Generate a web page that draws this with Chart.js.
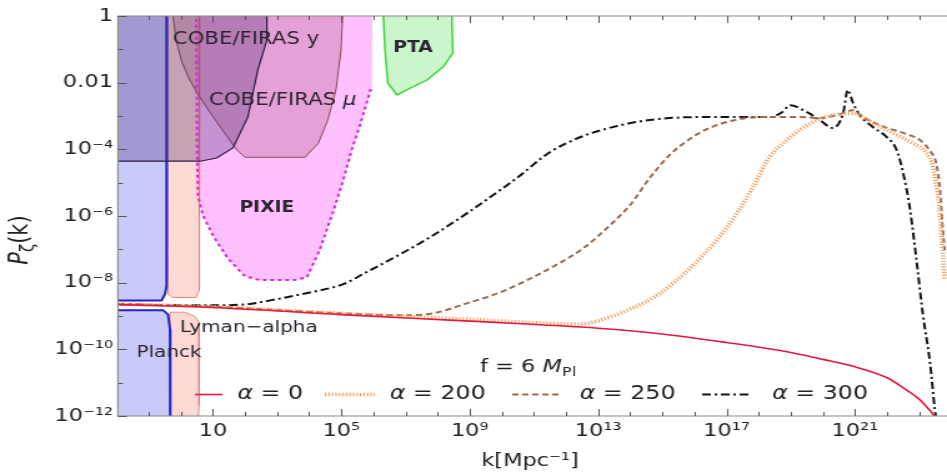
<!DOCTYPE html>
<html>
<head>
<meta charset="utf-8">
<script src="https://cdn.jsdelivr.net/npm/chart.js@4.4.1/dist/chart.umd.min.js"></script>
<style>
  html, body { margin: 0; padding: 0; background: #fff; overflow: hidden; }
  #chart { display: block; }
</style>
</head>
<body>
<!-- drawn narrow, shown wide -->
<canvas id="chart" width="758" height="475" style="width: 947px; height: 475px;"></canvas>
<script>
// P_zeta(k) for f = 6 M_Pl, k in Mpc^-1
const alpha0K = [1e-2, 1e1, 1e5, 1e9, 1e13, 1e15, 1e17, 1e19, 1e20, 1e21, 1e22, 3.2e22, 1e23, 2e23, 3e23];
const alpha0P = [2.2e-9, 1.8e-9, 1.1e-9, 7e-10, 4.3e-10, 2.9e-10, 1.6e-10, 8e-11, 5e-11, 3e-11, 1.4e-11, 7e-12, 3.2e-12, 1.6e-12, 1e-12];

const alpha200K = [1e-2, 1e1, 1e5, 1.1e9, 3.2e11, 2.7e12, 1.1e13, 9.8e13, 8.5e14, 7.2e15, 5e16, 2.1e17, 6.6e17, 2.2e18, 7.6e18, 1.9e19, 1e20, 8.7e20, 3.6e21, 1.5e22, 6.5e22, 1.7e23, 2.7e23, 3.5e23, 4.5e23, 5.1e23, 6.3e23];
const alpha200P = [2.3e-9, 1.9e-9, 1.2e-9, 7.9e-10, 6e-10, 5.6e-10, 7.4e-10, 1.6e-9, 4.8e-9, 2.7e-8, 1.9e-7, 1.2e-6, 7.2e-6, 5.9e-5, 1.9e-4, 3.8e-4, 8.7e-4, 1.2e-3, 6.2e-4, 3.1e-4, 1.5e-4, 7.8e-5, 3e-5, 7.2e-6, 1.2e-6, 1.9e-7, 1.2e-8];

const alpha250K = [1e-2, 1e1, 1e5, 6.8e6, 7.1e7, 8.1e8, 8.7e9, 9.3e10, 3.2e11, 3.4e12, 2.3e13, 9.8e13, 4.1e14, 1.7e15, 5.9e15, 1.8e16, 6.2e16, 2.6e17, 1.1e18, 1.9e19, 8.1e19, 2.8e20, 8.7e20, 1.8e21, 1e22, 3.2e22, 1.05e23, 2.1e23, 3.5e23, 4.5e23, 5.5e23, 6.3e23];
const alpha250P = [2.3e-9, 1.9e-9, 1.2e-9, 1.05e-9, 1.2e-9, 2.4e-9, 5.1e-9, 1.45e-8, 2.7e-8, 1.07e-7, 5.2e-7, 2.1e-6, 1.4e-5, 6.8e-5, 1.8e-4, 3.5e-4, 5.7e-4, 8.1e-4, 9.3e-4, 9.3e-4, 8.7e-4, 1.07e-3, 1.5e-3, 9.3e-4, 4.4e-4, 3.1e-4, 1.9e-4, 9.5e-5, 3.4e-5, 5.9e-6, 3.7e-7, 9.3e-8];

const alpha300K = [1e-2, 0.93, 1e1, 85, 980, 1.05e4, 1.1e5, 6.3e5, 6.8e6, 7.1e7, 8.1e8, 8.7e9, 3e10, 3.2e11, 3.4e12, 3.9e13, 4.1e14, 1.5e16, 2.2e18, 5.4e18, 9.5e18, 3.2e19, 8.1e19, 2e20, 4.3e20, 6e20, 8.7e20, 1.4e21, 3.6e21, 1e22, 2e22, 3.2e22, 5.1e22, 8.5e22, 1.3e23, 2.2e23, 3.1e23, 3.3e23];
const alpha300P = [2.3e-9, 2.1e-9, 2.1e-9, 2.2e-9, 3.2e-9, 5.1e-9, 8.9e-9, 2.1e-8, 7.1e-8, 2.6e-7, 1.2e-6, 5.9e-6, 1.4e-5, 8.3e-5, 2.5e-4, 5e-4, 7.6e-4, 9.3e-4, 9.3e-4, 1.3e-3, 2.1e-3, 1.3e-3, 7.6e-4, 4.4e-4, 1.2e-3, 6e-3, 2.5e-3, 1.07e-3, 4.7e-4, 2.3e-4, 9.5e-5, 1.9e-5, 1.8e-6, 3.8e-8, 1.2e-9, 3.8e-11, 1.5e-12, 1e-12];

// excluded / forecast regions, as closed outlines
const planckHiK = [1e-3, 0.37, 0.37, 0.35, 0.32, 0.25, 1e-3, 1e-3];
const planckHiP = [10, 10, 1e-7, 8e-9, 4.5e-9, 2.9e-9, 2.9e-9, 10];
const planckLoK = [1e-3, 0.28, 0.40, 0.46, 0.47, 0.47, 1e-3, 1e-3];
const planckLoP = [1.5e-9, 1.5e-9, 1.1e-9, 4e-10, 1e-11, 1e-13, 1e-13, 1.5e-9];

const lymanHiK = [0.37, 3.9, 3.7, 3.9, 3.7, 3.0, 0.55, 0.40, 0.37];
const lymanHiP = [10, 10, 3e-3, 3e-6, 5.9e-9, 3.6e-9, 3.6e-9, 4.5e-9, 10];
const lymanLoK = [0.46, 1.3, 2.75, 3.7, 3.7, 3.2, 0.46, 0.46];
const lymanLoP = [1.3e-9, 1.3e-9, 9.8e-10, 6.5e-10, 2.1e-12, 1e-13, 1e-13, 1.3e-9];

const firasYK = [1e-3, 480, 480, 250, 123, 42, 13, 4, 1e-3, 1e-3];
const firasYP = [10, 10, 0.19, 0.024, 9.3e-4, 1.1e-4, 5.5e-5, 4.4e-5, 4.4e-5, 10];

const firasMuK = [0.57, 0.57, 0.71, 1.07, 1.9, 4, 9.3, 23, 56, 100, 7.4e3, 1.9e4, 3.8e4, 6.8e4, 9.8e4, 1.1e5, 1.1e5, 0.57];
const firasMuP = [10, 1, 0.19, 0.042, 0.012, 3.5e-3, 1.07e-3, 3.1e-4, 9.5e-5, 5.8e-5, 5.8e-5, 1.5e-4, 7.6e-4, 6e-3, 0.095, 1, 10, 10];

const pixieK = [2.95, 3.2, 3.4, 4.9, 10, 29, 100, 290, 3500, 8500, 2.1e4, 5.5e4, 1.1e5, 2.1e5, 3.8e5, 8.9e5, 9.6e5, 2.95];
const pixieP = [10, 9.5e-5, 4.2e-6, 1.05e-6, 2.6e-7, 5.4e-8, 1.55e-8, 1.2e-8, 1.2e-8, 1.45e-8, 9.3e-8, 1.3e-6, 1.05e-5, 9.5e-5, 5.3e-4, 8e-3, 10, 10];
const pixieEdgeCount = 16; // dashed edge stops where the band meets the top

const ptaK = [1.8e6, 2.3e6, 2.8e6, 5.4e6, 1.4e7, 4.7e7, 1.5e8, 3e8, 2.8e8, 2.8e8, 1.8e6];
const ptaP = [10, 0.095, 9.8e-3, 4.3e-3, 6.9e-3, 0.012, 0.03, 0.078, 0.54, 10, 10];

// tick labels
const xTickValues = [1e1, 1e5, 1e9, 1e13, 1e17, 1e21];
const xTickLabels = ['10', '10⁵', '10⁹', '10¹³', '10¹⁷', '10²¹'];
const yTickValues = [1, 1e-2, 1e-4, 1e-6, 1e-8, 1e-10, 1e-12];
const yTickLabels = ['1', '0.01', '10⁻⁴', '10⁻⁶', '10⁻⁸', '10⁻¹⁰', '10⁻¹²'];

// region names and where they sit
const regionNames = ['COBE/FIRAS y', 'COBE/FIRAS μ', 'PIXIE', 'PTA', 'Lyman−alpha', 'Planck'];
const regionNameK = [107, 1500, 480, 1.7e7, 132, 0.43];
const regionNameP = [0.19, 3e-3, 1.7e-6, 0.11, 4.3e-10, 8.1e-11];

const FONT = '"DejaVu Sans", "Liberation Sans", sans-serif';

function pts(ks, ps) {
  return ks.map(function (k, i) { return { x: k, y: ps[i] }; });
}

function sameDecade(a, b) {
  return Math.abs(Math.log10(a) - Math.log10(b)) < 1e-6;
}

function decadeTicks(scale, labelled) {
  var lo = Math.ceil(Math.log10(scale.min) - 1e-9);
  var hi = Math.floor(Math.log10(scale.max) + 1e-9);
  var out = [];
  for (var e = lo; e <= hi; e++) {
    var v = Math.pow(10, e);
    out.push({ value: v, major: labelled.some(function (t) { return sameDecade(t, v); }) });
  }
  scale.ticks = out;
}

function labelFor(values, labels) {
  return function (v) {
    var i = values.findIndex(function (t) { return sameDecade(t, v); });
    return i < 0 ? '' : labels[i];
  };
}

function region(data, fill, line, width, order) {
  return {
    data: data, showLine: true, fill: 'shape', backgroundColor: fill,
    borderColor: line, borderWidth: width, pointRadius: 0, tension: 0, order: order
  };
}

function curve(label, data, color, width, dash, order) {
  return {
    label: label, data: data, showLine: true, fill: false, borderColor: color,
    borderWidth: width, borderDash: dash, pointRadius: 0,
    cubicInterpolationMode: 'monotone', order: order
  };
}

// text made of runs: [text, style], style '' | 'i' | 'b' | 'sub'
function drawRuns(ctx, x, y, runs, size, align) {
  function fontFor(s) {
    var px = s === 'sub' ? Math.round(size * 0.72) : size;
    return (s === 'i' ? 'italic ' : s === 'b' ? 'bold ' : '') + px + 'px ' + FONT;
  }
  var total = 0;
  runs.forEach(function (r) { ctx.font = fontFor(r[1]); total += ctx.measureText(r[0]).width; });
  var cx = align === 'center' ? x - total / 2 : x;
  ctx.textAlign = 'left';
  ctx.textBaseline = 'middle';
  runs.forEach(function (r) {
    ctx.font = fontFor(r[1]);
    ctx.fillText(r[0], cx, r[1] === 'sub' ? y + size * 0.3 : y);
    cx += ctx.measureText(r[0]).width;
  });
}

// frame with inward ticks on bottom, top and left
const frameTicks = {
  id: 'frameTicks',
  afterDatasetsDraw: function (chart) {
    var ctx = chart.ctx, a = chart.chartArea, x = chart.scales.x, y = chart.scales.y;
    ctx.save();
    ctx.strokeStyle = '#8c8c8c';
    ctx.lineWidth = 1.2;
    ctx.setLineDash([]);
    ctx.beginPath();
    ctx.moveTo(a.right, a.top); ctx.lineTo(a.left, a.top);
    ctx.lineTo(a.left, a.bottom); ctx.lineTo(a.right, a.bottom);
    ctx.stroke();
    ctx.strokeStyle = '#555';
    ctx.lineWidth = 1;
    ctx.beginPath();
    x.ticks.forEach(function (t) {
      var px = Math.round(x.getPixelForValue(t.value)) + 0.5;
      var len = t.major ? 7 : 4;
      ctx.moveTo(px, a.bottom); ctx.lineTo(px, a.bottom - len);
      ctx.moveTo(px, a.top); ctx.lineTo(px, a.top + len);
    });
    y.ticks.forEach(function (t) {
      var py = Math.round(y.getPixelForValue(t.value)) + 0.5;
      var len = t.major ? 7 : 4;
      ctx.moveTo(a.left, py); ctx.lineTo(a.left + len, py);
    });
    ctx.stroke();
    ctx.restore();
  }
};

// region names, in-plot legend and axis titles
const annotations = {
  id: 'annotations',
  afterDraw: function (chart) {
    var ctx = chart.ctx, x = chart.scales.x, y = chart.scales.y, a = chart.chartArea;
    ctx.save();
    ctx.fillStyle = '#2b2330';
    var styles = [
      [[regionNames[0], '']],
      [[regionNames[1].slice(0, -1), ''], ['μ', 'i']],
      [[regionNames[2], 'b']],
      [[regionNames[3], 'b']],
      [[regionNames[4], '']],
      [[regionNames[5], '']]
    ];
    var sizes = [17, 17, 15, 15, 16, 16];
    regionNames.forEach(function (n, i) {
      drawRuns(ctx, x.getPixelForValue(regionNameK[i]), y.getPixelForValue(regionNameP[i]), styles[i], sizes[i], 'center');
    });

    ctx.fillStyle = '#222';
    drawRuns(ctx, x.getPixelForValue(2.1e9), y.getPixelForValue(2.9e-11),
      [['f = 6 ', ''], ['M', 'i'], ['Pl', 'sub']], 18, 'left');

    // legend row inside the plot
    var ly = y.getPixelForValue(4.4e-12);
    var curves = chart.data.datasets.filter(function (d) { return d.label; });
    var sampleX = [[156, 178], [260, 300], [410, 450], [562, 602]];
    var textX = [190, 312, 464, 618];
    curves.forEach(function (d, i) {
      ctx.save();
      ctx.strokeStyle = d.borderColor;
      ctx.lineWidth = d.borderWidth;
      ctx.setLineDash(d.borderDash || []);
      ctx.beginPath();
      ctx.moveTo(sampleX[i][0], ly);
      ctx.lineTo(sampleX[i][1], ly);
      ctx.stroke();
      ctx.restore();
      drawRuns(ctx, textX[i], ly, [['α', 'i'], [' = ' + d.label, '']], 19, 'left');
    });

    // axis titles
    drawRuns(ctx, (a.left + a.right) / 2 - 2, 461, [['k[Mpc⁻¹]', '']], 18, 'center');
    ctx.translate(17, 240);
    ctx.rotate(-Math.PI / 2);
    drawRuns(ctx, 0, 0, [['P', 'i'], ['ζ', 'sub'], ['(k)', '']], 21, 'center');
    ctx.restore();
  }
};

const datasets = [
  curve('0', pts(alpha0K, alpha0P), '#e5173f', 1.6, [], 0),
  curve('200', pts(alpha200K, alpha200P), '#f3a15e', 3.6, [1.2, 1.6], 1),
  curve('250', pts(alpha250K, alpha250P), '#9b6a4f', 2, [5, 3], 2),
  curve('300', pts(alpha300K, alpha300P), '#141414', 2, [7, 3, 2, 3], 3),
  {
    data: pts(pixieK.slice(0, pixieEdgeCount), pixieP.slice(0, pixieEdgeCount)),
    showLine: true, fill: false, borderColor: '#e01fe0', borderWidth: 2,
    borderDash: [3, 3], pointRadius: 0, tension: 0, order: 10
  },
  region(pts(ptaK, ptaP), 'rgba(140,235,140,0.45)', '#3bd63b', 1.5, 11),
  region(pts(firasYK, firasYP), 'rgba(70,40,110,0.3)', '#2b1d45', 1.2, 12),
  region(pts(planckHiK, planckHiP), 'rgba(150,150,245,0.5)', '#2323c8', 2, 13),
  region(pts(planckLoK, planckLoP), 'rgba(150,150,245,0.5)', '#2323c8', 2, 13),
  region(pts(firasMuK, firasMuP), 'rgba(160,80,110,0.28)', '#8c4b50', 1, 14),
  region(pts(lymanHiK, lymanHiP), 'rgba(250,180,170,0.5)', 'rgba(225,130,120,0.9)', 1, 15),
  region(pts(lymanLoK, lymanLoP), 'rgba(250,180,170,0.5)', 'rgba(225,130,120,0.9)', 1, 15),
  region(pts(pixieK, pixieP), 'rgba(255,130,255,0.5)', 'rgba(0,0,0,0)', 0, 16)
];

const tickFont = { family: FONT, size: 18 };

new Chart(document.getElementById('chart'), {
  type: 'scatter',
  data: { datasets: datasets },
  options: {
    responsive: false,
    animation: false,
    events: [],
    layout: { padding: { top: 16, right: 0, bottom: 0, left: 0 } },
    plugins: { legend: { display: false }, tooltip: { enabled: false } },
    scales: {
      x: {
        type: 'logarithmic', min: 0.011, max: 7.4e23,
        grid: { display: false, drawTicks: false },
        border: { display: false },
        afterBuildTicks: function (s) { decadeTicks(s, xTickValues); },
        afterFit: function (s) { s.height = 59; },
        ticks: {
          autoSkip: false, maxRotation: 0, padding: 5, color: '#222', font: tickFont,
          callback: labelFor(xTickValues, xTickLabels)
        }
      },
      y: {
        type: 'logarithmic', min: 1e-12, max: 1,
        grid: { display: false, drawTicks: false },
        border: { display: false },
        afterBuildTicks: function (s) { decadeTicks(s, yTickValues); },
        afterFit: function (s) { s.width = 94.4; },
        ticks: {
          autoSkip: false, padding: 4, color: '#222', font: tickFont,
          callback: labelFor(yTickValues, yTickLabels)
        }
      }
    }
  },
  plugins: [frameTicks, annotations]
});
</script>
</body>
</html>
